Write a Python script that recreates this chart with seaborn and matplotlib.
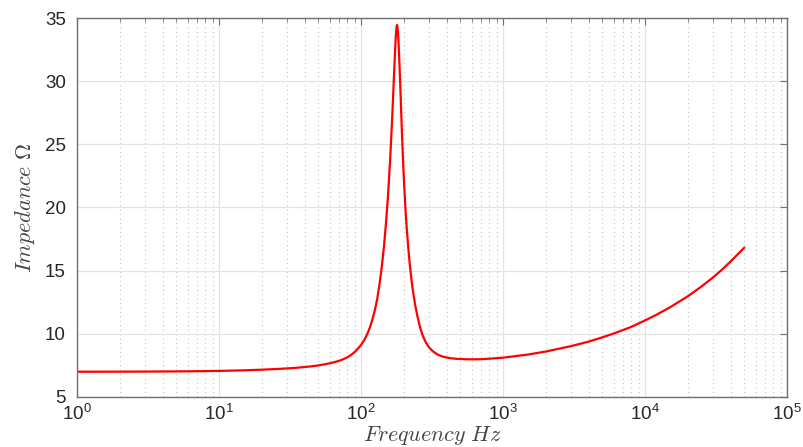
import matplotlib
matplotlib.use("Agg")
import matplotlib.pyplot as plt
import matplotlib.ticker as mticker
import seaborn as sns
import pandas as pd
import numpy as np

# Data
frequency_hz = [1, 2, 3, 5, 7, 10, 15, 20, 25, 30, 35, 40, 45, 50, 55, 60, 65, 70, 75,
                80, 85, 90, 95, 100, 105, 110, 115, 120, 125, 130, 135, 140, 145, 150,
                155, 160, 165, 168, 171, 174, 176, 178, 179, 180, 182, 184, 186, 188,
                190, 192, 194, 196, 198, 200, 205, 210, 215, 220, 225, 230, 240, 250,
                260, 270, 285, 300, 320, 350, 380, 420, 470, 540, 620, 700, 800, 1000,
                1500, 2000, 3000, 4000, 5000, 6000, 7000, 8000, 10000, 12000, 15000,
                20000, 25000, 30000, 35000, 40000, 45000, 50000]
impedance_ohm = [7.00, 7.005, 7.01, 7.025, 7.04, 7.065, 7.11, 7.16, 7.21, 7.26, 7.31,
                 7.37, 7.43, 7.50, 7.58, 7.66, 7.76, 7.86, 7.99, 8.14, 8.32, 8.55, 8.82,
                 9.12, 9.48, 9.92, 10.45, 11.1, 11.85, 12.75, 13.95, 15.3, 16.9, 18.8,
                 21.0, 23.6, 26.6, 28.6, 30.7, 32.6, 33.7, 34.3, 34.45, 34.4, 33.9, 32.9,
                 31.7, 30.3, 28.9, 27.4, 26.0, 24.7, 23.5, 22.4, 20.1, 18.3, 16.85, 15.6,
                 14.6, 13.7, 12.35, 11.35, 10.55, 9.95, 9.35, 8.95, 8.62, 8.33, 8.18,
                 8.08, 8.02, 7.99, 7.98, 7.99, 8.03, 8.11, 8.36, 8.60, 9.02, 9.38, 9.72,
                 10.02, 10.30, 10.55, 11.06, 11.50, 12.10, 12.97, 13.75, 14.45, 15.10,
                 15.72, 16.30, 16.82]
y_ticks = [5, 10, 15, 20, 25, 30, 35]
x_ticks = [1e0, 1e1, 1e2, 1e3, 1e4, 1e5]

df = pd.DataFrame({"f": frequency_hz, "z": impedance_ohm})

sns.set_theme(style="white")
plt.rcParams["font.family"] = ["Liberation Sans", "DejaVu Sans"]
plt.rcParams["mathtext.fontset"] = "cm"

fig = plt.figure(figsize=(8.04, 4.47), dpi=100)
ax = fig.add_axes([0.0958, 0.1119, 0.8831, 0.8478])

sns.lineplot(data=df, x="f", y="z", ax=ax, color="#ff0000", linewidth=1.6,
             sort=False, estimator=None)

ax.set_xscale("log")
ax.set_xlim(1, 1e5)
ax.set_ylim(5, 35)
ax.set_xticks(x_ticks)
ax.set_yticks(y_ticks)
ax.xaxis.set_minor_locator(mticker.LogLocator(base=10, subs=np.arange(2, 10), numticks=100))
ax.xaxis.set_minor_formatter(mticker.NullFormatter())

ax.grid(True, which="major", color="#e3e3e3", linestyle="-", linewidth=0.9)
ax.grid(True, which="minor", axis="x", color="#c4c4c4", linestyle=(0, (1, 3)), linewidth=0.8)
ax.set_axisbelow(True)

for s in ax.spines.values():
    s.set_color("#707070")
    s.set_linewidth(1.0)

ax.tick_params(which="both", direction="in", top=True, right=True,
               colors="#707070", labelcolor="#262626")
ax.tick_params(which="major", length=5, width=0.8, labelsize=13.5)
ax.tick_params(which="minor", length=3, width=0.6)
ax.tick_params(axis="x", which="major", pad=5)
ax.tick_params(axis="y", which="major", pad=8)

ax.set_xlabel(r"$Frequency\ Hz$", fontsize=16, color="#444444", labelpad=0)
ax.set_ylabel(r"$Impedance\ \Omega$", fontsize=16, color="#444444", labelpad=6)

fig.savefig("out.png", dpi=100, facecolor="white")
